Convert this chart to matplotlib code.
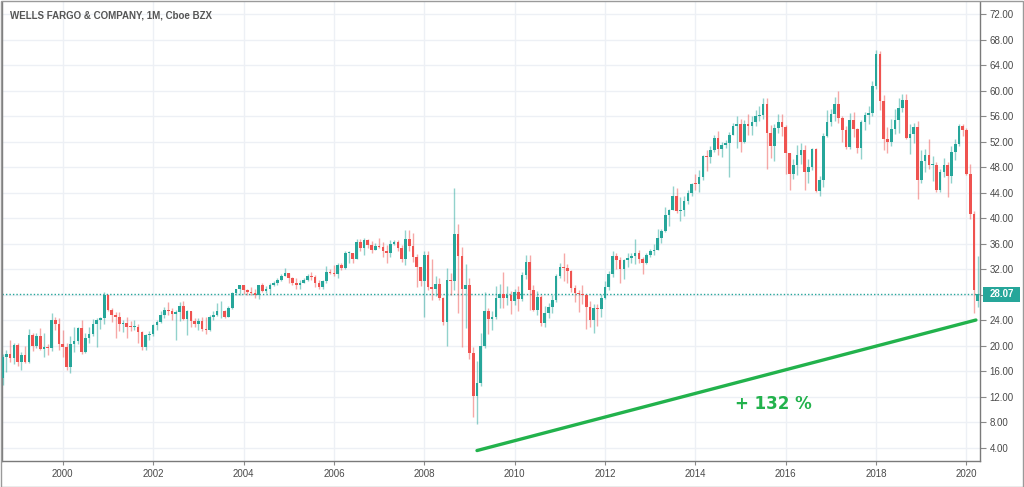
"""Wells Fargo monthly candles (TradingView style) with a trend line annotation."""

import matplotlib

matplotlib.use("Agg")
import matplotlib.pyplot as plt
import matplotlib.transforms as mtransforms
from matplotlib.patches import Rectangle
import pandas as pd

# -----------------------------------------------------------------------------
# Data: monthly candles, Sep 1998 to Apr 2020
# -----------------------------------------------------------------------------
START_MONTH = "1998-09"
FIRST_OPEN = 14.9
OPEN_GAPS = {"2020-04": 27.1}  # months whose open is not the previous close

CLOSES = [
    18.3, 18.7, 18.1, 20.1,  # 1998 Sep-Dec
    17.5, 18.6, 17.5, 21.7, 20.0, 21.6, 19.5, 19.9, 19.7, 24.1, 23.4, 20.3,  # 1999
    19.8, 16.65, 20.3, 20.7, 22.8, 19.0, 21.2, 21.9, 23.4, 24.0, 24.4, 28.0,  # 2000
    25.6, 24.9, 24.5, 23.5, 23.6, 23.0, 22.9, 23.0, 22.2, 19.9, 21.7, 21.9,  # 2001
    23.3, 23.7, 24.8, 25.7, 25.5, 25.0, 25.3, 26.3, 24.2, 25.4, 23.9, 23.4,  # 2002
    23.9, 22.6, 22.5, 24.5, 24.8, 25.4, 25.5, 24.6, 26.0, 28.3, 28.9, 29.5,  # 2003
    28.7, 28.5, 28.35, 28.0, 29.5, 28.66, 28.87, 29.5, 29.9, 30.3, 30.96, 31.5,  # 2004
    30.6, 29.9, 29.5, 29.9, 30.4, 30.96, 30.75, 29.8, 29.2, 30.2, 31.6, 31.5,  # 2005
    31.2, 32.7, 32.2, 34.5, 34.6, 33.7, 36.3, 35.3, 36.6, 35.8, 35.0, 35.7,  # 2006
    35.5, 34.8, 34.5, 36.0, 36.3, 35.3, 33.7, 36.7, 35.7, 34.0, 32.4, 30.2,  # 2007
    34.25, 29.2, 29.0, 29.75, 27.5, 23.75, 30.27, 30.21, 37.53, 34.05, 28.89, 29.48,  # 2008
    18.9, 12.1, 14.24, 20.01, 25.5, 24.26, 24.46, 27.52, 28.18, 27.52, 28.02, 26.99,  # 2009
    28.43, 27.35, 31.12, 33.11, 28.69, 25.6, 27.73, 23.55, 25.12, 26.08, 27.21, 30.99,  # 2010
    32.42, 32.26, 31.71, 29.11, 28.37, 28.06, 27.94, 26.1, 24.12, 25.91, 25.86, 27.56,  # 2011
    29.21, 31.3, 34.14, 33.43, 32.05, 33.44, 33.81, 34.03, 34.53, 33.69, 33.01, 34.18,  # 2012
    34.83, 35.07, 36.99, 37.98, 40.54, 41.27, 43.5, 41.08, 41.32, 42.69, 44.02, 45.4,  # 2013
    45.34, 46.42, 49.74, 49.64, 50.78, 52.56, 50.9, 51.44, 51.87, 53.09, 54.48, 54.82,  # 2014
    51.92, 54.79, 54.4, 55.1, 55.96, 56.24, 57.87, 53.33, 51.35, 54.14, 55.1, 54.36,  # 2015
    50.23, 46.94, 48.36, 49.98, 50.71, 47.33, 47.97, 50.8, 44.28, 46.01, 52.92, 55.11,  # 2016
    56.33, 57.88, 55.66, 53.84, 51.24, 55.41, 53.94, 51.07, 55.15, 56.14, 56.46, 60.67,  # 2017
    65.78, 58.41, 52.41, 51.96, 53.99, 55.44, 57.29, 58.48, 52.56, 53.23, 54.28, 46.08,  # 2018
    48.91, 49.9, 48.32, 48.41, 44.37, 47.32, 48.41, 46.57, 50.44, 51.63, 54.46, 53.8,  # 2019
    46.94, 40.62, 28.7, 28.07,  # 2020 Jan-Apr
]
HIGHS = [
    18.8, 19.4, 20.9, 20.4,
    20.4, 19.1, 20.0, 22.6, 22.0, 22.1, 22.8, 22.0, 20.3, 25.1, 24.6, 24.3,
    22.5, 20.4, 21.5, 23.0, 23.0, 24.1, 22.0, 23.0, 24.2, 24.3, 24.6, 28.4,
    28.1, 26.0, 25.3, 25.3, 24.1, 24.6, 23.9, 24.1, 23.4, 22.3, 21.9, 22.4,
    23.5, 24.1, 25.5, 26.1, 26.9, 25.9, 25.7, 26.9, 27.1, 25.6, 25.1, 24.4,
    24.4, 24.6, 24.6, 24.8, 25.4, 26.7, 27.1, 25.7, 26.3, 28.4, 29.0, 29.6,
    29.4, 29.0, 29.3, 29.0, 29.6, 29.8, 29.4, 29.8, 30.2, 30.6, 31.2, 32.2,
    31.5, 30.8, 30.6, 30.4, 30.6, 31.3, 31.6, 31.1, 30.3, 30.4, 32.5, 32.1,
    32.7, 33.0, 33.0, 34.8, 34.8, 34.0, 36.7, 36.7, 36.9, 36.7, 36.5, 36.2,
    36.9, 36.3, 35.8, 36.6, 36.6, 36.6, 35.8, 38.2, 38.2, 37.7, 34.4, 32.4,
    34.8, 34.8, 33.6, 30.9, 30.6, 27.6, 32.2, 31.4, 44.7, 39.1, 35.5, 32.8,
    30.6, 19.8, 17.7, 22.0, 28.4, 26.0, 25.5, 29.4, 29.7, 31.6, 29.4, 28.6,
    29.0, 29.4, 31.6, 34.3, 34.3, 29.6, 28.6, 28.0, 26.3, 26.8, 28.0, 31.3,
    33.0, 34.5, 32.9, 31.9, 29.6, 28.8, 29.6, 28.2, 27.1, 26.6, 26.5, 28.2,
    30.1, 31.7, 34.9, 34.6, 34.0, 33.7, 34.6, 34.6, 36.7, 35.0, 34.0, 34.6,
    35.2, 36.0, 38.3, 38.4, 41.7, 41.5, 45.0, 44.8, 43.3, 43.5, 44.4, 45.6,
    46.9, 47.5, 50.0, 50.7, 51.4, 53.0, 53.7, 52.0, 52.3, 53.5, 55.0, 56.0,
    55.5, 55.4, 56.3, 56.0, 57.0, 57.6, 58.8, 58.8, 54.6, 54.8, 56.3, 56.3,
    54.6, 50.3, 49.3, 51.5, 51.8, 51.5, 49.3, 51.0, 51.0, 46.7, 53.3, 57.0,
    57.2, 59.0, 59.99, 56.0, 54.5, 56.5, 56.6, 54.2, 55.4, 56.6, 57.6, 61.5,
    66.31, 66.2, 59.3, 54.3, 55.6, 57.2, 58.9, 59.5, 59.5, 54.8, 55.0, 55.2,
    50.7, 50.8, 52.5, 49.8, 48.9, 47.8, 49.5, 48.9, 51.4, 52.5, 54.8, 54.75,
    54.1, 48.5, 41.2, 34.1,
]
LOWS = [
    13.9, 15.9, 17.5, 17.1,
    16.9, 16.3, 17.3, 17.3, 19.2, 19.7, 19.4, 18.3, 18.6, 19.2, 22.5, 19.3,
    18.3, 16.3, 15.7, 19.1, 20.3, 18.7, 18.9, 20.4, 21.5, 19.9, 22.6, 23.5,
    25.4, 23.8, 21.3, 22.4, 22.2, 21.3, 22.3, 22.5, 20.4, 19.3, 19.3, 21.0,
    21.5, 22.5, 23.6, 24.3, 24.9, 24.0, 21.0, 23.9, 24.0, 21.7, 23.0, 22.9,
    22.5, 22.3, 21.8, 22.3, 24.0, 24.7, 24.4, 24.4, 24.6, 25.8, 28.0, 28.0,
    28.2, 28.0, 28.0, 27.5, 27.3, 28.5, 28.3, 28.2, 29.4, 29.5, 30.2, 30.9,
    29.9, 29.5, 29.0, 29.0, 29.9, 30.1, 30.3, 29.2, 28.9, 28.9, 29.8, 31.2,
    31.0, 30.6, 31.9, 32.0, 33.0, 33.0, 34.0, 34.8, 34.3, 35.3, 34.6, 35.0,
    35.3, 34.0, 33.0, 34.0, 35.8, 34.8, 33.2, 32.7, 34.8, 33.2, 29.3, 29.4,
    24.5, 28.7, 27.2, 27.8, 27.2, 23.3, 20.0, 28.0, 28.8, 25.1, 19.9, 22.8,
    17.9, 8.8, 7.8, 13.7, 19.6, 21.8, 22.5, 24.2, 25.9, 26.0, 26.4, 25.0,
    26.4, 25.5, 27.0, 30.5, 25.6, 25.5, 24.8, 23.1, 23.0, 24.3, 25.2, 26.9,
    30.6, 30.1, 29.8, 28.4, 26.9, 25.3, 26.6, 22.6, 22.9, 22.1, 23.2, 24.5,
    27.3, 28.8, 30.8, 32.0, 29.8, 30.5, 32.4, 33.0, 32.9, 33.0, 31.3, 32.8,
    34.0, 34.2, 35.0, 36.1, 37.9, 38.8, 41.3, 40.8, 39.6, 40.4, 42.2, 43.5,
    44.4, 44.1, 46.0, 47.4, 48.7, 50.4, 50.0, 49.6, 51.0, 46.5, 53.0, 51.0,
    50.4, 51.8, 53.0, 53.0, 54.4, 55.3, 55.6, 47.75, 49.5, 49.0, 53.3, 52.9,
    46.9, 44.5, 46.2, 46.8, 48.5, 44.5, 45.5, 47.6, 44.1, 43.5, 44.9, 52.8,
    54.4, 55.3, 54.9, 52.0, 50.8, 50.8, 52.8, 50.2, 49.3, 53.8, 54.8, 56.0,
    60.2, 57.0, 50.7, 50.2, 51.3, 53.2, 53.4, 56.7, 52.4, 50.1, 51.8, 43.02,
    45.6, 47.2, 47.7, 45.9, 44.2, 44.2, 46.4, 43.34, 45.6, 49.2, 51.4, 52.9,
    46.8, 39.9, 25.11, 26.1,
]

TITLE = "WELLS FARGO & COMPANY, 1M, Cboe BZX"
LAST_PRICE = 28.07
YEAR_TICKS = list(range(2000, 2021, 2))
PRICE_TICKS = list(range(4, 73, 4))
TREND_MONTHS = [110, 242.5]  # months counted from Jan 2000
TREND_PRICES = [3.6, 24.06]
TREND_LABEL = "+ 132 %"
LABEL_MONTH, LABEL_PRICE = 188.6, 10.9

UP = "#26a69a"
DOWN = "#ef5350"
GREEN = "#22b24c"
GRID = "#edf0f5"
TEXT = "#4a4a4a"

# -----------------------------------------------------------------------------
# Build the candles
# -----------------------------------------------------------------------------
months = pd.period_range(START_MONTH, periods=len(CLOSES), freq="M")
df = pd.DataFrame({"close": CLOSES, "high": HIGHS, "low": LOWS}, index=months)
df["open"] = [FIRST_OPEN] + CLOSES[:-1]
for m, o in OPEN_GAPS.items():
    df.loc[pd.Period(m, freq="M"), "open"] = o
df["high"] = df[["high", "open", "close"]].max(axis=1)
df["low"] = df[["low", "open", "close"]].min(axis=1)
df["x"] = [(p.year - 2000) * 12 + p.month - 1 for p in df.index]
up = df["close"] >= df["open"]

fig = plt.figure(figsize=(10.24, 4.87), dpi=100)
W, H = 1024, 487
left_px, right_px, top_px, bottom_px = 1.5, 980, 2, 461
ax = fig.add_axes([left_px / W, 1 - bottom_px / H,
                   (right_px - left_px) / W, (bottom_px - top_px) / H])

# pixel geometry of the reference: 2000 at x=62.8 px, 3.7654 px per month,
# price 4 at y=448 px, 6.38 px per dollar
ax.set_xlim((left_px - 62.8) / 3.7654, (right_px - 62.8) / 3.7654)
ax.set_ylim(4 + (448 - bottom_px) / 6.38, 4 + (448 - top_px) / 6.38)

wick_colors = [UP if u else DOWN for u in up]
ax.vlines(df["x"], df["low"], df["high"], colors=wick_colors, linewidth=1.0,
          alpha=0.5, zorder=3)
body_bottom = df[["open", "close"]].min(axis=1)
body_height = (df["close"] - df["open"]).abs().clip(lower=0.15)
ax.bar(df["x"], body_height, bottom=body_bottom, width=0.7,
       color=wick_colors, linewidth=0, zorder=4)

# last price dotted line
ax.axhline(LAST_PRICE, color=UP, linestyle=(0, (1, 1.5)), linewidth=1, zorder=2)

# trend line and label
ax.plot(TREND_MONTHS, TREND_PRICES, color=GREEN, linewidth=2.4,
        solid_capstyle="round", zorder=5)
ax.text(LABEL_MONTH, LABEL_PRICE, TREND_LABEL, color=GREEN, fontsize=12,
        fontweight="bold", ha="center", va="center", family="DejaVu Sans")

# grid and ticks
ax.set_xticks([(y - 2000) * 12 for y in YEAR_TICKS])
ax.set_xticklabels([str(y) for y in YEAR_TICKS], fontsize=7, color=TEXT,
                   family="Liberation Sans")
ax.set_yticks(PRICE_TICKS)
ax.set_yticklabels(["" if t == 28 else f"{t:.2f}" for t in PRICE_TICKS],
                   fontsize=7, color=TEXT, family="Liberation Sans")
ax.yaxis.tick_right()
ax.tick_params(axis="x", length=3, width=0.8, color="#8a8a8a", pad=3)
ax.tick_params(axis="y", length=4, width=0.8, color="#8a8a8a", pad=3)
ax.grid(True, color=GRID, linewidth=1, zorder=0)
ax.set_axisbelow(True)

for side in ["top"]:
    ax.spines[side].set_visible(False)
for side in ["left", "right", "bottom"]:
    ax.spines[side].set_color("#7a7a7a")
    ax.spines[side].set_linewidth(1)

# price label box on the right axis
blend = mtransforms.blended_transform_factory(fig.transFigure, ax.transData)
ax.add_patch(Rectangle((983 / W, LAST_PRICE - 1.15), 37 / W, 2.3, transform=blend,
                       facecolor=UP, edgecolor="none", clip_on=False, zorder=6))
ax.text(1001.5 / W, LAST_PRICE, f"{LAST_PRICE:.2f}", transform=blend, color="white",
        fontsize=7, fontweight="bold", ha="center", va="center",
        family="Liberation Sans", zorder=7)

# outer frame
fig.add_artist(Rectangle((0.5 / W, 0.5 / H), (W - 1.5) / W, (H - 1.5) / H,
                         transform=fig.transFigure, fill=False,
                         edgecolor="#9a9a9a", linewidth=1))

fig.text(10 / W, 1 - 15 / H, TITLE, fontsize=7, fontweight="bold", color="#555555",
         ha="left", va="center", family="Liberation Sans")

fig.savefig("out.png", dpi=100)
